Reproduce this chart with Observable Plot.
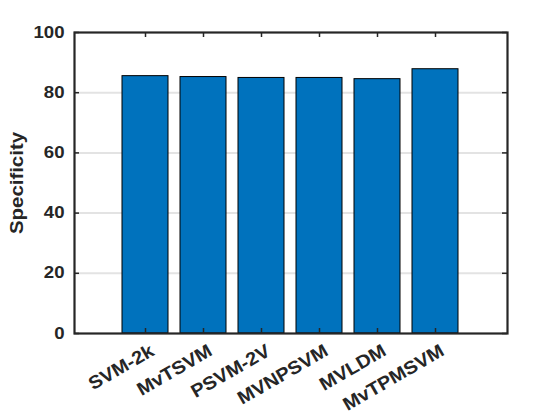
<!DOCTYPE html>
<html>
<head>
<meta charset="utf-8">
<script src="https://cdn.jsdelivr.net/npm/d3@7"></script>
<script src="https://cdn.jsdelivr.net/npm/@observablehq/plot@0.6"></script>
<style>
  html, body { margin: 0; padding: 0; background: #fff; }
  svg text { font-family: "Liberation Sans", Arial, sans-serif; font-weight: bold; }
</style>
</head>
<body>
<div id="chart"></div>
<script>
const methods = ["SVM-2k", "MvTSVM", "PSVM-2V", "MVNPSVM", "MVLDM", "MvTPMSVM"];
const specificity = [85.5, 85.2, 84.9, 84.9, 84.5, 87.8];
const yTicks = [0, 20, 40, 60, 80, 100];
const yLabel = "Specificity";

const data = methods.map((m, i) => ({method: m, value: specificity[i]}));

const W = 560, H = 420;
const mL = 74, mR = 53, mT = 32, mB = 87;
const innerW = W - mL - mR, innerH = H - mT - mB;
const tickLen = 5;
const ink = "#262626";
const fsY = 16, fsX = 18.5, fsLab = 18.5;

const chart = Plot.plot({
  width: W,
  height: H,
  marginLeft: mL,
  marginRight: mR,
  marginTop: mT,
  marginBottom: mB,
  style: {fontFamily: "Liberation Sans, Arial, sans-serif", fontWeight: "bold", background: "#fff"},
  x: {domain: methods, paddingInner: 0.2, paddingOuter: 0.79, axis: null},
  y: {domain: [0, 100], axis: null},
  marks: [
    Plot.ruleY(yTicks.filter(d => d > 0 && d < 100), {stroke: "#e3e3e3", strokeWidth: 2}),
    Plot.barY(data, {x: "method", y: "value", fill: "#0072BD", stroke: "#000", strokeWidth: 1}),
    // inward ticks
    Plot.tickY(yTicks, {y: d => d, stroke: ink, strokeWidth: 1.5, insetRight: innerW - tickLen}),
    Plot.tickY(yTicks, {y: d => d, stroke: ink, strokeWidth: 1.5, insetLeft: innerW - tickLen}),
    Plot.tickX(methods, {x: d => d, stroke: ink, strokeWidth: 1.5, insetTop: innerH - tickLen}),
    Plot.tickX(methods, {x: d => d, stroke: ink, strokeWidth: 1.5, insetBottom: innerH - tickLen}),
    Plot.frame({stroke: ink, strokeWidth: 2.2}),
    // y tick labels
    Plot.text(yTicks, {y: d => d, frameAnchor: "left", dx: -10, textAnchor: "end", text: d => String(d), fontSize: fsY, fill: ink, fontWeight: "bold"}),
    // x tick labels
    Plot.text(methods, {x: d => d, frameAnchor: "bottom", dx: 10, dy: 21, rotate: -30, textAnchor: "end", text: d => d, fontSize: fsX, fill: ink, fontWeight: "bold"}),
    // y axis label
    Plot.text([yLabel], {frameAnchor: "left", dx: -57, rotate: -90, textAnchor: "middle", text: d => d, fontSize: fsLab, fill: ink, fontWeight: "bold"})
  ]
});
document.getElementById("chart").appendChild(chart);

// The reference font renders wider than its height suggests: widen glyphs along the text direction.
(function widen() {
  const tickSet = new Set(yTicks.map(String));
  const methodSet = new Set(methods);
  chart.querySelectorAll("text").forEach(el => {
    const s = el.textContent;
    let k;
    if (tickSet.has(s)) k = 18.6 / fsY;
    else if (methodSet.has(s)) k = 20 / fsX;
    else if (s === yLabel) k = 20.4 / fsLab;
    else return;
    const t = el.getAttribute("transform") || "";
    el.setAttribute("transform", `${t} scale(${k.toFixed(4)},1)`);
  });
})();
</script>
</body>
</html>
